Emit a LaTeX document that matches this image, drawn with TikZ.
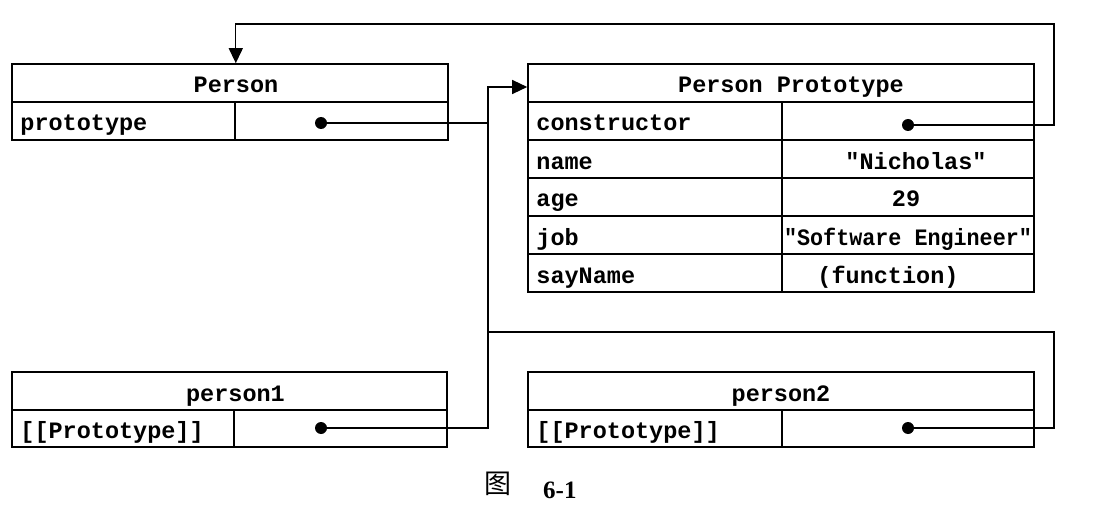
\documentclass[tikz,border=0pt]{standalone}
\usepackage{fontspec}
\setmainfont{Liberation Serif}
\newfontfamily\ttb{Liberation Mono}
\newfontfamily\cjk{Noto Sans CJK SC}
\usetikzlibrary{arrows.meta,calc}
\begin{document}
\begin{tikzpicture}[x=1pt,y=-1pt,
  box/.style={draw, line width=1.6pt, inner sep=0pt, minimum height=38pt, rectangle},
  txt/.style={font=\ttb\bfseries\fontsize{23.5}{27}\selectfont, inner sep=0pt, anchor=base},
  ltxt/.style={txt, anchor=base west},
  dotn/.style={circle, fill, inner sep=0pt, minimum size=12pt},
  conn/.style={line width=1.3pt},
  arr/.style={conn, -{Triangle[length=15pt,width=14pt]}}]
\useasboundingbox (0,0) rectangle (1106,508);

% Person
\node[box, minimum width=436pt] (personH) at (230,83) {};
\node[box, minimum width=223pt] (personK) at (123.5,121) {};
\node[box, minimum width=213pt] (personV) at (341.5,121) {};
\node[txt] (personHt) at ([xshift=6pt,yshift=-10pt]personH.center) {Person};
\node[ltxt] (personKt) at ([xshift=9pt,yshift=-10pt]personK.west) {prototype};
\node[dotn] (pdot) at (321,123) {};

% Person Prototype
\node[box, minimum width=506pt] (ptH) at (781,83) {};
\foreach \n/\y in {c/121,n/159,a/197,j/235,s/273}{
  \node[box, minimum width=254pt] (ptK\n) at (655,\y) {};
  \node[box, minimum width=252pt] (ptV\n) at (908,\y) {};
}
\node[txt] (ptHt) at ([xshift=10pt,yshift=-10pt]ptH.center) {Person Prototype};
\node[ltxt] (ptKct) at ([xshift=9pt,yshift=-10pt]ptKc.west) {constructor};
\node[ltxt] (ptKnt) at ([xshift=9pt,yshift=-10pt]ptKn.west) {name};
\node[ltxt] (ptKat) at ([xshift=9pt,yshift=-10pt]ptKa.west) {age};
\node[ltxt] (ptKjt) at ([xshift=9pt,yshift=-10pt]ptKj.west) {job};
\node[ltxt] (ptKst) at ([xshift=9pt,yshift=-10pt]ptKs.west) {sayName};
\node[txt] (ptVnt) at ([xshift=8pt,yshift=-10pt]ptVn.center) {"Nicholas"};
\node[txt] (ptVat) at ([xshift=-2pt,yshift=-10pt]ptVa.center) {29};
\node[txt] (ptVjt) at ([xshift=0pt,yshift=-10pt]ptVj.center) {\scalebox{0.925}[1]{"Software Engineer"}};
\node[txt] (ptVst) at ([xshift=-20pt,yshift=-10pt]ptVs.center) {(function)};
\node[dotn] (cdot) at (908,125) {};

% person1
\node[box, minimum width=435pt] (p1H) at (229.5,391) {};
\node[box, minimum width=222pt, minimum height=37pt] (p1K) at (123,428.5) {};
\node[box, minimum width=213pt, minimum height=37pt] (p1V) at (340.5,428.5) {};
\node[txt] (p1Ht) at ([xshift=6pt,yshift=-10pt]p1H.center) {person1};
\node[ltxt] (p1Kt) at ([xshift=9pt,yshift=-10pt]p1K.west) {[[Prototype]]};
\node[dotn] (p1dot) at (321,428) {};

% person2
\node[box, minimum width=506pt] (p2H) at (781,391) {};
\node[box, minimum width=254pt, minimum height=37pt] (p2K) at (655,428.5) {};
\node[box, minimum width=252pt, minimum height=37pt] (p2V) at (908,428.5) {};
\node[txt] (p2Ht) at ([yshift=-10pt]p2H.center) {person2};
\node[ltxt] (p2Kt) at ([xshift=9pt,yshift=-10pt]p2K.west) {[[Prototype]]};
\node[dotn] (p2dot) at (908,428) {};

% connectors
\coordinate (j) at (488,87);
\coordinate (top) at (1054,24);
\coordinate (bot) at (1054,332);
\draw[conn] (pdot) -- (pdot -| j);
\draw[arr] (p1dot) -| (j) -- (j -| ptH.west);
\draw[conn] (p2dot) -| (bot) -- (bot -| j);
\draw[arr] (cdot) -| (top) -| (personH.north -| personK.east);

% caption
\node[font=\cjk\fontsize{27}{30}\selectfont, inner sep=0pt] (figchar) at (498,484) {图};
\node[font=\bfseries\fontsize{25}{28}\selectfont, inner sep=0pt, anchor=base west] (fignum) at (543,498) {6-1};
\end{tikzpicture}
\end{document}
